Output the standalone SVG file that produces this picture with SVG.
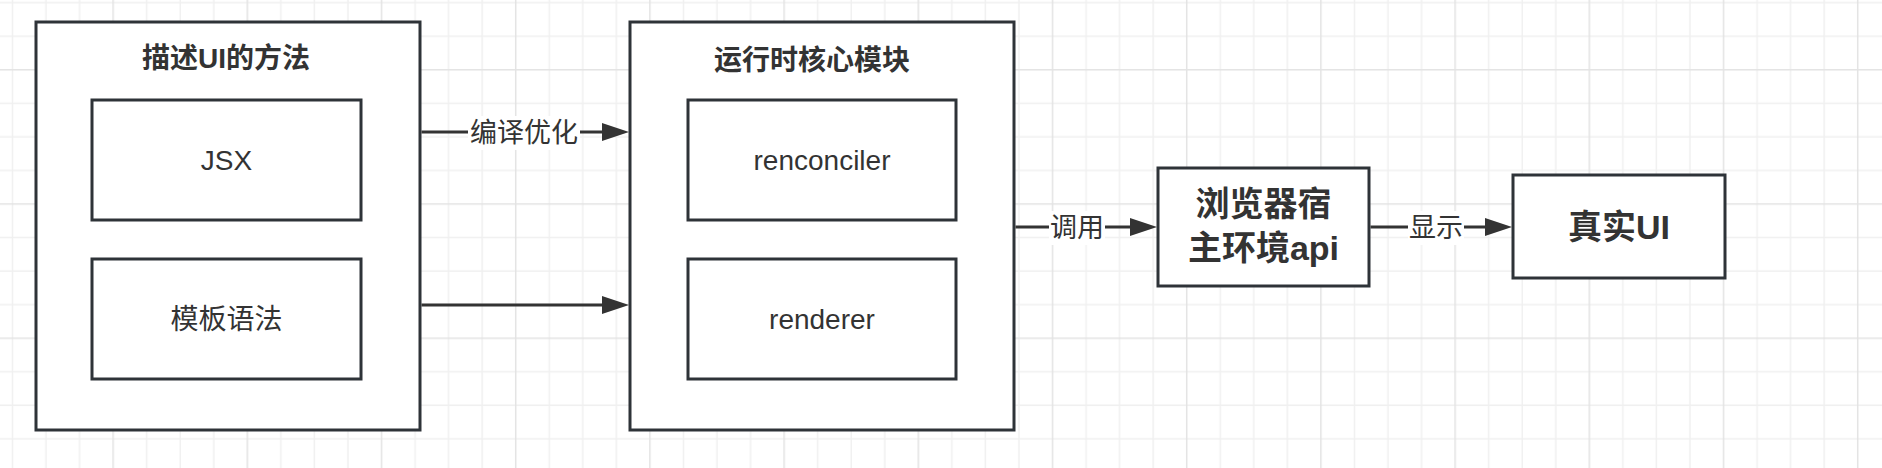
<svg xmlns="http://www.w3.org/2000/svg" width="1882" height="468" viewBox="0 0 1882 468">
  <defs>
    <pattern id="grid" patternUnits="userSpaceOnUse" x="112.35" y="69.05" width="134.2" height="134.2">
      <g stroke="#f0f0f0" stroke-width="1.5">
        <line x1="34.3" y1="0" x2="34.3" y2="134.2"/>
        <line x1="67.85" y1="0" x2="67.85" y2="134.2"/>
        <line x1="101.4" y1="0" x2="101.4" y2="134.2"/>
        <line x1="0" y1="34.3" x2="134.2" y2="34.3"/>
        <line x1="0" y1="67.85" x2="134.2" y2="67.85"/>
        <line x1="0" y1="101.4" x2="134.2" y2="101.4"/>
      </g>
      <g stroke="#e3e3e3" stroke-width="1.5">
        <line x1="0.75" y1="0" x2="0.75" y2="134.2"/>
        <line x1="0" y1="0.75" x2="134.2" y2="0.75"/>
      </g>
    </pattern>
    <marker id="arrow" markerUnits="userSpaceOnUse" markerWidth="28" markerHeight="18" refX="0" refY="9" orient="auto">
      <path d="M0,0 L27,9 L0,18 Z" fill="#333333"/>
    </marker>
  </defs>
  <style>
    .box { fill: #ffffff; stroke: #2e3338; stroke-width: 3; }
    .title { font-family: "Liberation Sans", "Noto Sans CJK SC", sans-serif; font-weight: bold; font-size: 28px; fill: #333333; text-anchor: middle; }
    .big { font-family: "Liberation Sans", "Noto Sans CJK SC", sans-serif; font-weight: bold; font-size: 34px; fill: #333333; text-anchor: middle; }
    .label { font-family: "Liberation Sans", "Noto Sans CJK SC", sans-serif; font-size: 28px; fill: #333333; text-anchor: middle; }
    .elabel { font-family: "Liberation Sans", "Noto Sans CJK SC", sans-serif; font-size: 27px; fill: #333333; text-anchor: middle; }
    .edge { stroke: #333333; stroke-width: 3; fill: none; marker-end: url(#arrow); }
    .lbg { fill: #ffffff; }
  </style>
  <rect width="1882" height="468" fill="#ffffff"/>
  <rect width="1882" height="468" fill="url(#grid)"/>

  <g id="node-describe-ui">
    <rect class="box" x="36" y="22" width="384" height="408"/>
    <text class="title" x="226" y="68">描述UI的方法</text>
  </g>
  <g id="node-jsx">
    <rect class="box" x="92" y="100" width="269" height="120"/>
    <text class="label" x="226.5" y="170">JSX</text>
  </g>
  <g id="node-template">
    <rect class="box" x="92" y="259" width="269" height="120"/>
    <text class="label" x="226.5" y="329">模板语法</text>
  </g>

  <g id="node-runtime-core">
    <rect class="box" x="630" y="22" width="384" height="408"/>
    <text class="title" x="812" y="70">运行时核心模块</text>
  </g>
  <g id="node-reconciler">
    <rect class="box" x="688" y="100" width="268" height="120"/>
    <text class="label" x="822" y="170">renconciler</text>
  </g>
  <g id="node-renderer">
    <rect class="box" x="688" y="259" width="268" height="120"/>
    <text class="label" x="822" y="329">renderer</text>
  </g>

  <g id="node-browser-api">
    <rect class="box" x="1158" y="168" width="211" height="118"/>
    <text class="big" x="1263.5" y="216">浏览器宿</text>
    <text class="big" x="1263.5" y="260">主环境api</text>
  </g>

  <g id="node-real-ui">
    <rect class="box" x="1513" y="175" width="212" height="103"/>
    <text class="big" x="1619" y="239">真实UI</text>
  </g>

  <g id="connectors">
    <line class="edge" x1="421.5" y1="132" x2="602" y2="132"/>
    <rect class="lbg" x="468" y="116" width="112" height="34"/>
    <text class="elabel" x="524" y="142">编译优化</text>

    <line class="edge" x1="421.5" y1="305" x2="602" y2="305"/>

    <line class="edge" x1="1015.5" y1="227" x2="1130" y2="227"/>
    <rect class="lbg" x="1049" y="211" width="56" height="34"/>
    <text class="elabel" x="1077" y="237">调用</text>

    <line class="edge" x1="1370.5" y1="227" x2="1485" y2="227"/>
    <rect class="lbg" x="1408" y="211" width="56" height="34"/>
    <text class="elabel" x="1436" y="237">显示</text>
  </g>
</svg>
